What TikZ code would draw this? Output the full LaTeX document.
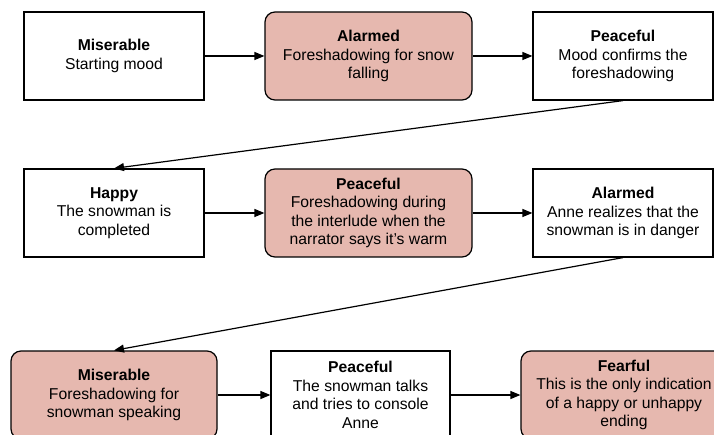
\documentclass[tikz,border=0pt]{standalone}
\usepackage{fontspec}
\setmainfont{Liberation Sans}
\usetikzlibrary{arrows.meta}

\definecolor{rose}{HTML}{E6B8AF}

\tikzset{every picture/.style={line width=1.2pt}}

\begin{document}
\begin{tikzpicture}[
    x=1pt, y=-1pt,
    every node/.style={draw, align=center, inner sep=0pt, minimum height=88pt,
        font=\fontsize{15.7}{18.5}\selectfont},
    mood/.style={minimum width=180pt},
    hint/.style={fill=rose, rounded corners=10pt, minimum width=207pt},
    link/.style={-{Triangle[length=10pt,width=8pt]}},
]

    \path[use as bounding box, clip] (0,0) rectangle (714,435);

    \node[mood] (miser1) at (114,56) {\textbf{Miserable}\\Starting mood};
    \node[hint] (alarm1) at (368.5,56) {\textbf{Alarmed}\\Foreshadowing for snow\\falling};
    \node[mood] (peace1) at (623,56) {\textbf{Peaceful}\\Mood confirms the\\foreshadowing};

    \node[mood] (happy2) at (114,213) {\textbf{Happy}\\The snowman is\\completed};
    \node[hint] (peace2) at (368.5,213) {\textbf{Peaceful}\\Foreshadowing during\\the interlude when the\\narrator says it’s warm};
    \node[mood] (alarm2) at (623,213) {\textbf{Alarmed}\\Anne realizes that the\\snowman is in danger};

    \node[hint, minimum width=206pt] (miser3) at (114,395) {\textbf{Miserable}\\Foreshadowing for\\snowman speaking};
    \node[mood, minimum width=179pt] (peace3) at (360.5,395) {\textbf{Peaceful}\\The snowman talks\\and tries to console\\Anne};
    \node[hint, minimum width=206pt] (fear3) at (624,395) {\textbf{Fearful}\\This is the only indication\\of a happy or unhappy\\ending};

    \draw[link] (miser1) -- (alarm1);
    \draw[link] (alarm1) -- (peace1);
    \draw[link] (peace1.south) -- (happy2.north);
    \draw[link] (happy2) -- (peace2);
    \draw[link] (peace2) -- (alarm2);
    \draw[link] (alarm2.south) -- (miser3.north);
    \draw[link] (miser3) -- (peace3);
    \draw[link] (peace3) -- (fear3);
\end{tikzpicture}
\end{document}
